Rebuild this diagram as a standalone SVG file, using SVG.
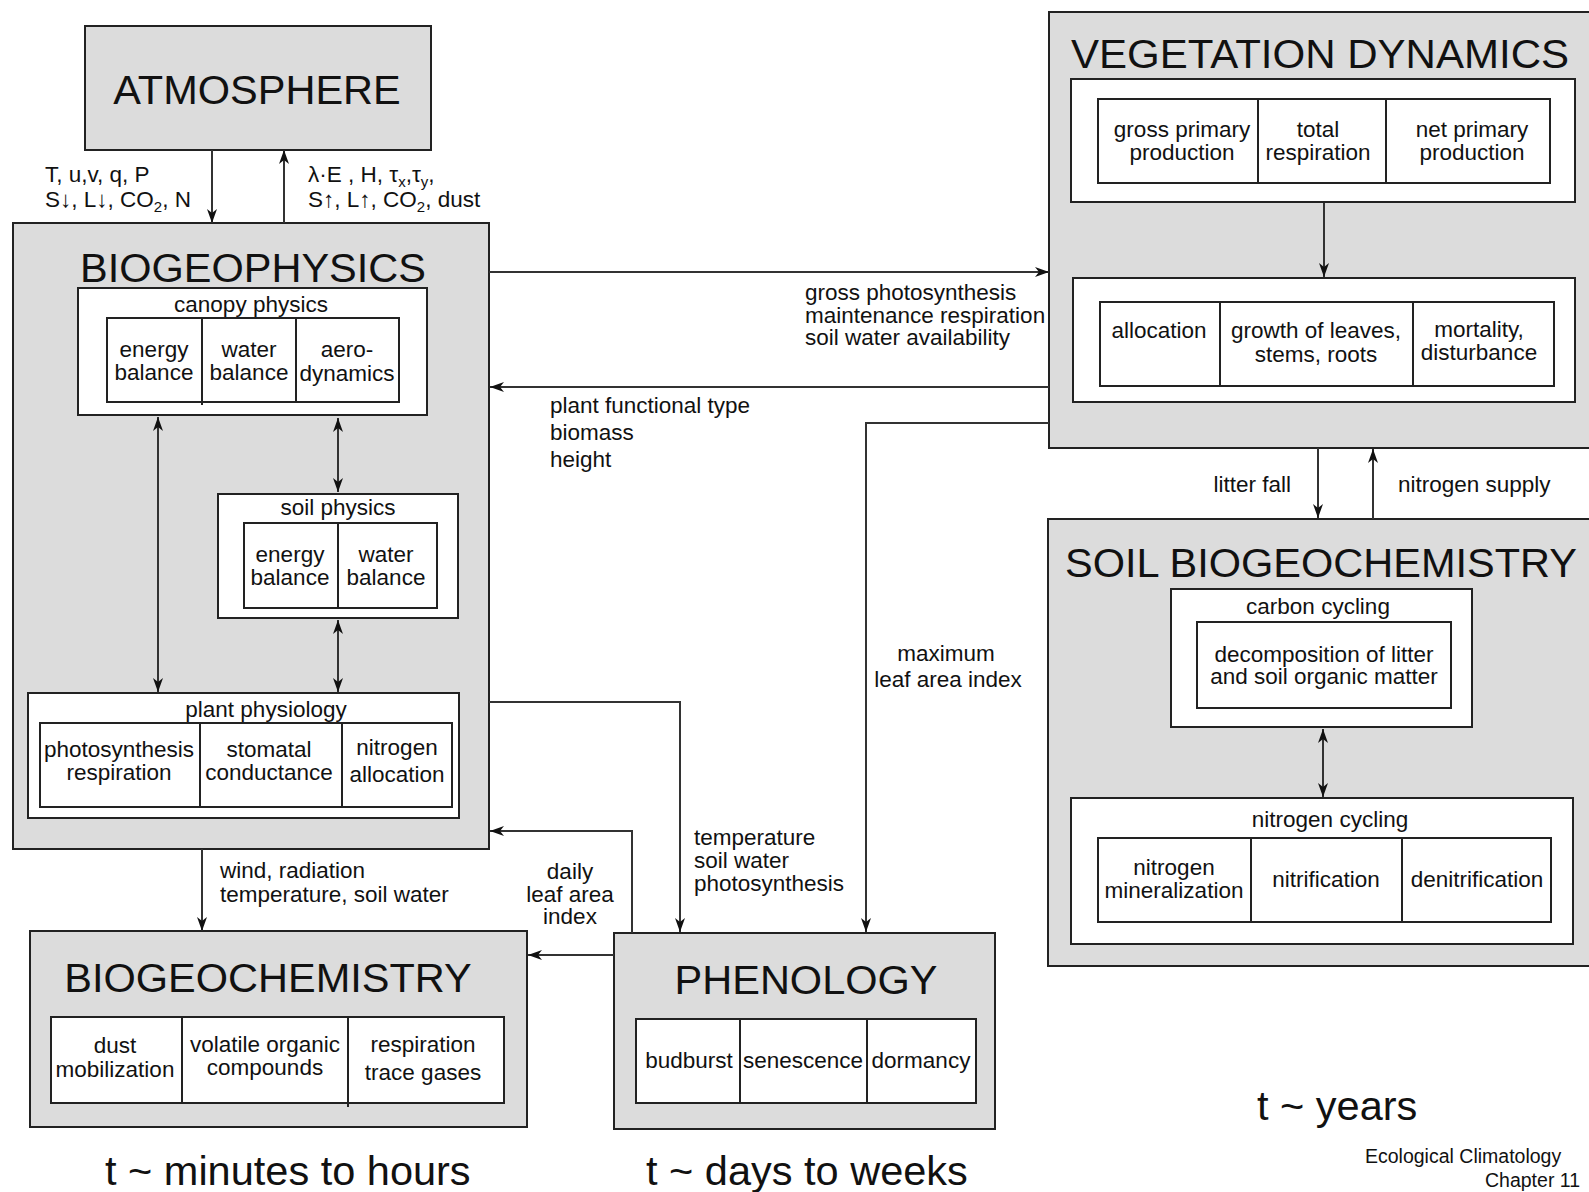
<svg xmlns="http://www.w3.org/2000/svg" width="1589" height="1192" viewBox="0 0 1589 1192">
<defs>
<style>
.outer{fill:#dcdcdc;stroke:#222;stroke-width:2}
.box{fill:#fff;stroke:#222;stroke-width:2}
.div{stroke:#222;stroke-width:2;fill:none}
text{font-family:"Liberation Sans",Arial,sans-serif;fill:#111}
.title{font-size:41.5px}
.t{font-size:22.5px}
.c{text-anchor:middle}
.e{text-anchor:end}
.sub{font-size:15px}
.time{font-size:41.5px}
.foot{font-size:19.5px}
.conn{fill:none;stroke:#333;stroke-width:2}
.ar{marker-end:url(#ah)}
.dar{marker-end:url(#ah);marker-start:url(#ah)}
</style>
<marker id="ah" viewBox="0 0 14 10" refX="14" refY="5" markerWidth="14" markerHeight="10" markerUnits="userSpaceOnUse" orient="auto-start-reverse">
<path d="M0,0 L14,5 L0,10 L4,5 z" fill="#111"/>
</marker>
</defs>
<rect width="1589" height="1192" fill="#fff"/>

<g id="atmosphere">
<rect class="outer" x="85" y="26" width="346" height="124"/>
<text class="title c" x="257" y="104">ATMOSPHERE</text>
</g>

<g id="biogeophysics">
<rect class="outer" x="13" y="223" width="476" height="626"/>
<text class="title" x="80" y="282">BIOGEOPHYSICS</text>
<g id="canopy-physics">
<rect class="box" x="78" y="288" width="349" height="127"/>
<text class="t c" x="251" y="312">canopy physics</text>
<rect class="box" x="107" y="318" width="292" height="84"/>
<path class="div" d="M202,318 V405 M296,318 V402"/>
<text class="t c" x="154" y="357">energy</text>
<text class="t c" x="154" y="380">balance</text>
<text class="t c" x="249" y="357">water</text>
<text class="t c" x="249" y="380">balance</text>
<text class="t c" x="347" y="357">aero-</text>
<text class="t c" x="347" y="381">dynamics</text>
</g>
<g id="soil-physics">
<rect class="box" x="218" y="494" width="240" height="124"/>
<text class="t c" x="338" y="515">soil physics</text>
<rect class="box" x="244" y="523" width="193" height="85"/>
<path class="div" d="M338,523 V608"/>
<text class="t c" x="290" y="562">energy</text>
<text class="t c" x="290" y="585">balance</text>
<text class="t c" x="386" y="562">water</text>
<text class="t c" x="386" y="585">balance</text>
</g>
<g id="plant-physiology">
<rect class="box" x="28" y="693" width="431" height="125"/>
<text class="t c" x="266" y="717">plant physiology</text>
<rect class="box" x="40" y="723" width="412" height="84"/>
<path class="div" d="M200,723 V807 M342,723 V807"/>
<text class="t c" x="119" y="757">photosynthesis</text>
<text class="t c" x="119" y="780">respiration</text>
<text class="t c" x="269" y="757">stomatal</text>
<text class="t c" x="269" y="780">conductance</text>
<text class="t c" x="397" y="755">nitrogen</text>
<text class="t c" x="397" y="782">allocation</text>
</g>
</g>

<g id="vegetation-dynamics">
<rect class="outer" x="1049" y="12" width="600" height="436"/>
<text class="title" x="1071" y="68" textLength="498" lengthAdjust="spacingAndGlyphs">VEGETATION DYNAMICS</text>
<rect class="box" x="1071" y="79" width="504" height="123"/>
<rect class="box" x="1098" y="99" width="452" height="84"/>
<path class="div" d="M1258,99 V183 M1386,99 V183"/>
<text class="t c" x="1182" y="137">gross primary</text>
<text class="t c" x="1182" y="160">production</text>
<text class="t c" x="1318" y="137">total</text>
<text class="t c" x="1318" y="160">respiration</text>
<text class="t c" x="1472" y="137">net primary</text>
<text class="t c" x="1472" y="160">production</text>
<rect class="box" x="1073" y="278" width="502" height="124"/>
<rect class="box" x="1100" y="302" width="454" height="84"/>
<path class="div" d="M1220,302 V386 M1413,302 V386"/>
<text class="t c" x="1159" y="338">allocation</text>
<text class="t c" x="1316" y="338">growth of leaves,</text>
<text class="t c" x="1316" y="362">stems, roots</text>
<text class="t c" x="1479" y="337">mortality,</text>
<text class="t c" x="1479" y="360">disturbance</text>
</g>

<g id="soil-biogeochemistry">
<rect class="outer" x="1048" y="519" width="600" height="447"/>
<text class="title" x="1065" y="577" textLength="512" lengthAdjust="spacingAndGlyphs">SOIL BIOGEOCHEMISTRY</text>
<g id="carbon-cycling">
<rect class="box" x="1171" y="589" width="301" height="138"/>
<text class="t c" x="1318" y="614">carbon cycling</text>
<rect class="box" x="1197" y="622" width="254" height="86"/>
<text class="t c" x="1324" y="662">decomposition of litter</text>
<text class="t c" x="1324" y="684">and soil organic matter</text>
</g>
<g id="nitrogen-cycling">
<rect class="box" x="1071" y="798" width="502" height="146"/>
<text class="t c" x="1330" y="827">nitrogen cycling</text>
<rect class="box" x="1098" y="838" width="453" height="84"/>
<path class="div" d="M1251,838 V922 M1402,838 V922"/>
<text class="t c" x="1174" y="875">nitrogen</text>
<text class="t c" x="1174" y="898">mineralization</text>
<text class="t c" x="1326" y="887">nitrification</text>
<text class="t c" x="1477" y="887">denitrification</text>
</g>
</g>

<g id="biogeochemistry">
<rect class="outer" x="30" y="931" width="497" height="196"/>
<text class="title c" x="268" y="992">BIOGEOCHEMISTRY</text>
<rect class="box" x="51" y="1017" width="453" height="86"/>
<path class="div" d="M182,1017 V1103 M348,1017 V1107"/>
<text class="t c" x="115" y="1053">dust</text>
<text class="t c" x="115" y="1077">mobilization</text>
<text class="t c" x="265" y="1052">volatile organic</text>
<text class="t c" x="265" y="1075">compounds</text>
<text class="t c" x="423" y="1052">respiration</text>
<text class="t c" x="423" y="1080">trace gases</text>
</g>

<g id="phenology">
<rect class="outer" x="614" y="933" width="381" height="196"/>
<text class="title c" x="806" y="994">PHENOLOGY</text>
<rect class="box" x="636" y="1019" width="340" height="84"/>
<path class="div" d="M740,1019 V1103 M867,1019 V1103"/>
<text class="t c" x="689" y="1068">budburst</text>
<text class="t c" x="803" y="1068">senescence</text>
<text class="t c" x="921" y="1068">dormancy</text>
</g>

<g id="connectors">
<path class="conn ar" d="M212,150 V223"/>
<path class="conn ar" d="M284,223 V150"/>
<path class="conn ar" d="M489,272 H1049"/>
<path class="conn ar" d="M1049,387 H490"/>
<path class="conn ar" d="M1049,423 H866 V932"/>
<path class="conn ar" d="M489,702 H680 V932"/>
<path class="conn ar" d="M632,933 V831 H490"/>
<path class="conn ar" d="M614,955 H528"/>
<path class="conn ar" d="M202,849 V931"/>
<path class="conn dar" d="M158,417 V692"/>
<path class="conn dar" d="M338,418 V492"/>
<path class="conn dar" d="M338,620 V692"/>
<path class="conn ar" d="M1324,203 V277"/>
<path class="conn ar" d="M1318,448 V518"/>
<path class="conn ar" d="M1373,519 V449"/>
<path class="conn dar" d="M1323,729 V797"/>

<text class="t" x="45" y="182">T, u,v, q, P</text>
<text class="t" x="45" y="207">S↓, L↓, CO<tspan class="sub" dy="5">2</tspan><tspan dy="-5">, N</tspan></text>
<text class="t" x="308" y="182">λ·E , H, τ<tspan class="sub" dy="5">x</tspan><tspan dy="-5">,τ</tspan><tspan class="sub" dy="5">y</tspan><tspan dy="-5">,</tspan></text>
<text class="t" x="308" y="207">S↑, L↑, CO<tspan class="sub" dy="5">2</tspan><tspan dy="-5">, dust</tspan></text>

<text class="t" x="805" y="300">gross photosynthesis</text>
<text class="t" x="805" y="323">maintenance respiration</text>
<text class="t" x="805" y="345">soil water availability</text>

<text class="t" x="550" y="413">plant functional type</text>
<text class="t" x="550" y="440">biomass</text>
<text class="t" x="550" y="467">height</text>

<text class="t c" x="946" y="661">maximum</text>
<text class="t c" x="948" y="687">leaf area index</text>

<text class="t" x="694" y="845">temperature</text>
<text class="t" x="694" y="868">soil water</text>
<text class="t" x="694" y="891">photosynthesis</text>

<text class="t c" x="570" y="879">daily</text>
<text class="t c" x="570" y="902">leaf area</text>
<text class="t c" x="570" y="924">index</text>

<text class="t" x="220" y="878">wind, radiation</text>
<text class="t" x="220" y="902">temperature, soil water</text>

<text class="t e" x="1291" y="492">litter fall</text>
<text class="t" x="1398" y="492">nitrogen supply</text>
</g>

<g id="timescales">
<text class="time" x="105" y="1185">t ~ minutes to hours</text>
<text class="time" x="646" y="1185">t ~ days to weeks</text>
<text class="time" x="1257" y="1120">t ~ years</text>
<text class="foot" x="1365" y="1163">Ecological Climatology</text>
<text class="foot" x="1485" y="1187">Chapter 11</text>
</g>
</svg>
